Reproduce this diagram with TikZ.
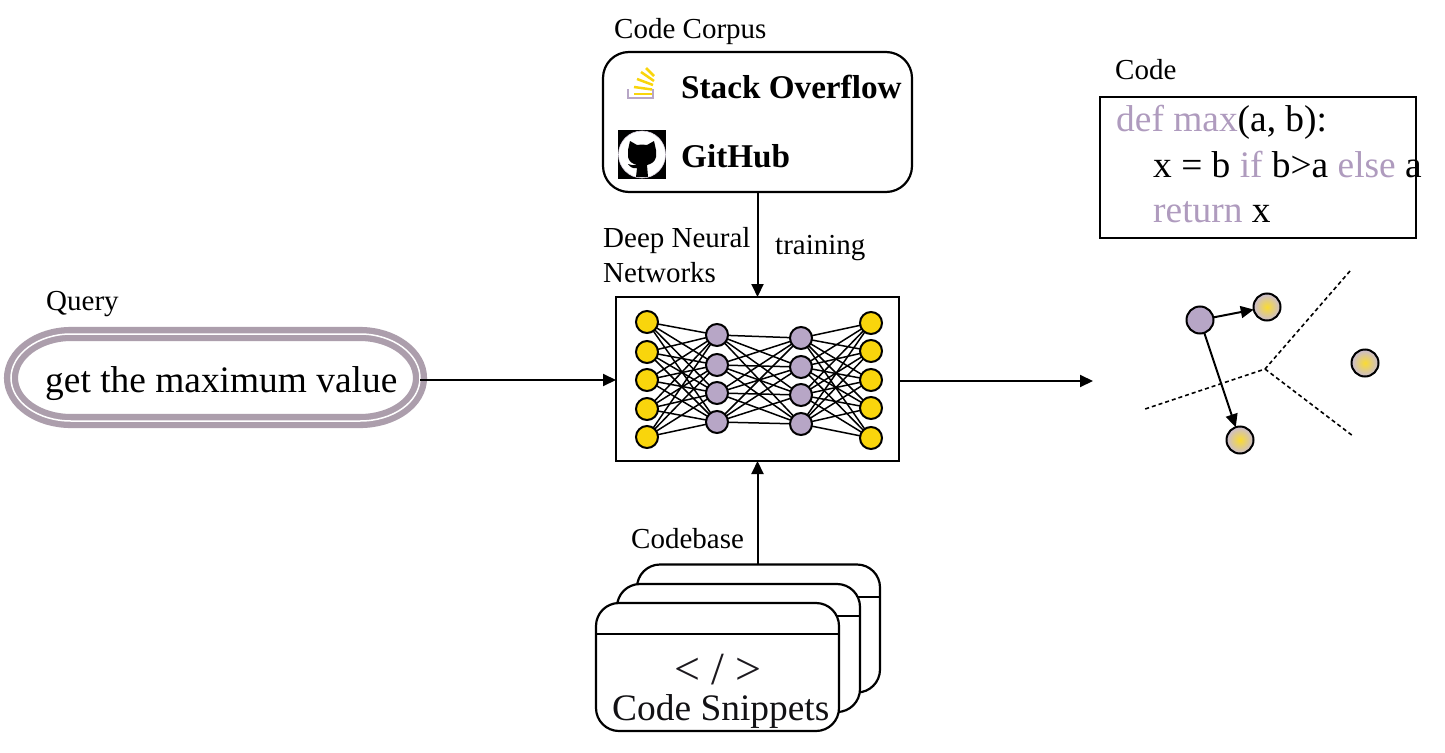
\documentclass[tikz,border=0pt]{standalone}
\usepackage{fontspec}
\setmainfont{Liberation Serif}
\usetikzlibrary{arrows.meta}
\newcommand{\fsz}[1]{\fontsize{#1}{#1}\selectfont}
\definecolor{lilac}{HTML}{B7A6C6}
\definecolor{gold}{HTML}{F9D50C}
\definecolor{pillgrey}{HTML}{AC9EAC}
\definecolor{kwd}{HTML}{AF9BBE}
\tikzset{
  x=1pt,y=-1pt,
  conn/.style={line width=2pt,-{Triangle[length=13pt,width=12pt]}},
  label/.style={anchor=base west,inner sep=0pt,font=\fsz{29}},
  bigtxt/.style={anchor=base west,inner sep=0pt,font=\fsz{37.4}},
  brand/.style={anchor=base west,inner sep=0pt,font=\fsz{33.2}\bfseries},
  frame/.style={draw,line width=2.2pt,fill=white,inner sep=0pt,outer sep=0pt},
  card/.style={frame,rounded corners=23pt,minimum width=243pt,minimum height=128pt},
  golddot/.style={circle,draw,line width=2pt,fill=gold,minimum size=22pt,inner sep=0pt,outer sep=0pt},
  lilacdot/.style={circle,draw,line width=2pt,fill=lilac,minimum size=22pt,inner sep=0pt,outer sep=0pt},
  point/.style={circle,draw,line width=2pt,minimum size=27pt,inner sep=0pt,outer sep=0pt},
  ptarget/.style={point,inner color=gold!85!white,outer color=lilac!75!white},
  nnedge/.style={line width=1.5pt},
  bound/.style={line width=1.6pt,dash pattern=on 4pt off 3pt},
  pillband/.style={draw=pillgrey,line width=6.3pt,double=white,double distance=1.5pt}
}
\begin{document}
\begin{tikzpicture}
\useasboundingbox (0,0) rectangle (1445,752);
\fill[white] (0,0) rectangle (1445,752);

% query
\path[pillband] (71,334) -- (360,334) .. controls (393,334) and (420,354) .. (420,378) .. controls (420,402) and (393,421) .. (360,421) -- (71,421) .. controls (38,421) and (11,402) .. (11,378) .. controls (11,354) and (38,334) .. (71,334) -- cycle;
\node[inner sep=0pt,minimum width=409pt,minimum height=87pt] (query) at (215.5,380) {};
\node[bigtxt] (querytxt) at (45,392) {get the maximum value};
\node[label] (querylab) at (46,310) {Query};

% corpus
\node[frame,rounded corners=26pt,minimum width=309pt,minimum height=140pt] (corpus) at (757.5,122) {};
\node[label] (corpuslab) at (614,38) {Code Corpus};
\node[brand] (so) at (681,98) {Stack Overflow};
\node[brand] (gh) at (681,167) {GitHub};
% stack overflow icon
\draw[lilac,line width=2.8pt] (628,89) -- (628,98) -- (653,98) -- (653,89);
\foreach \a/\b/\c/\d in {634/94/652/94,634/87/652/89.5,637/79/653/85,641/72/654/81,646/68/654/76}
  \draw[gold,line width=2.5pt] (\a,\b) -- (\c,\d);
% github icon
\fill[black] (618,130) rectangle (666,179);
\fill[white,draw=lilac!50!white,line width=.6pt] (642,154.5) circle (23.5);
\fill[black] (630,141) -- (637,145) -- (642,144.5) -- (647,145) -- (654,141) -- (656,150) -- (656,157) .. controls (655,162) and (651,164) .. (647,165) -- (648,177) -- (636,177) -- (637,168) .. controls (633,169) and (630,167) .. (628,164) .. controls (631,165) and (634,166) .. (637,165) .. controls (633,164) and (629,162) .. (628,157) -- (628,150) -- cycle;

% network
\node[frame,minimum width=283pt,minimum height=164pt] (net) at (757.5,379) {};
\node[label] (dnn1) at (603,247) {Deep Neural};
\node[label] (dnn2) at (603,282) {Networks};
\node[label] (train) at (775,254) {training};
\foreach \n/\y in {1/322,2/352,3/380,4/409,5/437} \node[golddot] (a\n) at (647,\y) {};
\foreach \n/\y in {1/335,2/365,3/393,4/422} \node[lilacdot] (b\n) at (717,\y) {};
\foreach \n/\y in {1/338,2/367,3/395,4/424} \node[lilacdot] (c\n) at (801,\y) {};
\foreach \n/\y in {1/323,2/351,3/380,4/408,5/438} \node[golddot] (d\n) at (871,\y) {};
\foreach \i in {1,...,5} \foreach \j in {1,...,4} {
  \draw[nnedge] (a\i) -- (b\j);
  \draw[nnedge] (c\j) -- (d\i);
}
\foreach \i in {1,...,4} \foreach \j in {1,...,4} \draw[nnedge] (b\i) -- (c\j);

% codebase
\node[card] (cardc) at (758.5,628.5) {};
\draw[line width=1.4pt] (637,597) -- (880,597);
\node[card] (cardb) at (738.5,648) {};
\draw[line width=1.4pt] (617,616) -- (860,616);
\node[card] (carda) at (717.5,667) {};
\draw[line width=1.4pt] (596,634) -- (839,634);
\node[anchor=base,inner sep=0pt,font=\fsz{46},text=black!85!lilac] (tags) at (718,684) {< / >};
\node[bigtxt,text=black!90!lilac] (snip) at (612,720) {Code Snippets};
\node[label] (baselab) at (631,548) {Codebase};

% code
\node[draw,line width=2.2pt,inner sep=0pt,minimum width=316pt,minimum height=141pt] (code) at (1258,167.5) {};
\node[label] (codelab) at (1115,80) {Code};
\node[bigtxt] (l1) at (1116,131.5) {\textcolor{kwd}{def max}(a, b):};
\node[bigtxt] (l2) at (1153,177) {x = b \textcolor{kwd}{if} b>a \textcolor{kwd}{else} a};
\node[bigtxt] (l3) at (1153,222) {\textcolor{kwd}{return} x};

% embedding space
\coordinate (mid) at (1265,369);
\coordinate (ne) at (1350,271);
\coordinate (sw) at (1145,409);
\coordinate (se) at (1353,436);
\draw[bound] (ne) -- (mid) -- (sw);
\draw[bound] (mid) -- (se);
\node[point,fill=lilac] (p0) at (1200,320) {};
\node[ptarget] (p1) at (1267,307) {};
\node[ptarget] (p2) at (1365,363) {};
\node[ptarget] (p3) at (1240,440) {};
\draw[conn] (p0) -- (p1);
\draw[conn] (p0) -- (p3);

% connectors
\coordinate (out) at (1093,381);
\draw[conn] (corpus.south -| net.north) -- (net.north);
\draw[conn] (cardc.north -| net.south) -- (net.south);
\draw[conn] (query.east) -- (query.east -| net.west);
\draw[conn] (net.east |- out) -- (out);
\end{tikzpicture}
\end{document}
